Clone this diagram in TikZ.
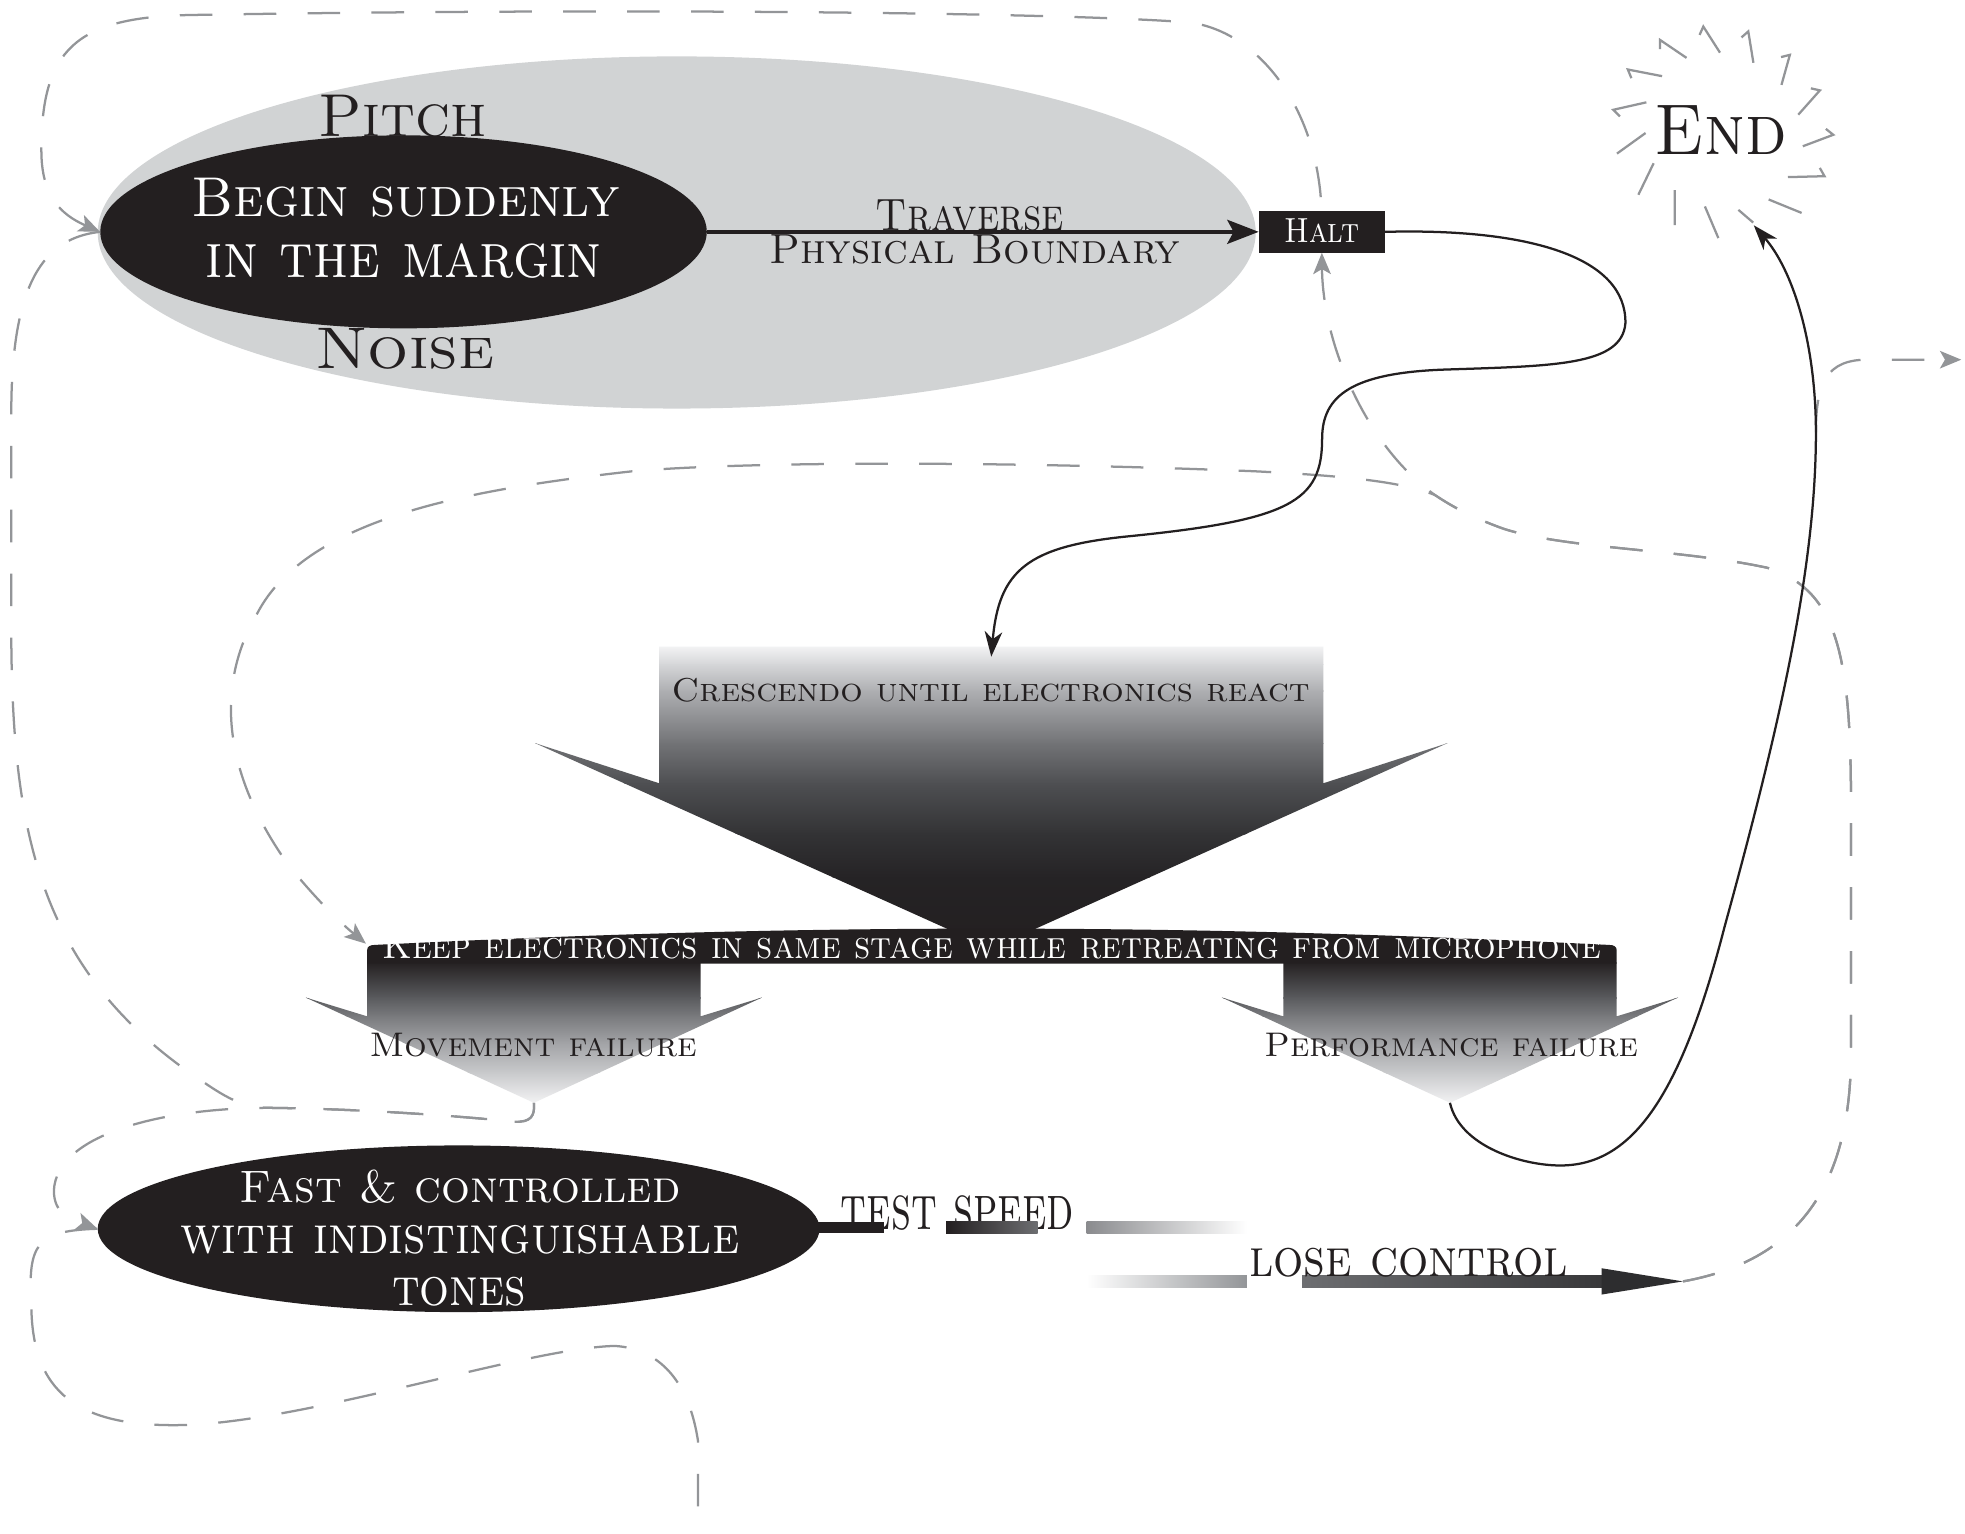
\documentclass[tikz,border=0pt]{standalone}
\usepackage{fontspec}
\usetikzlibrary{shapes.geometric,arrows.meta}
\definecolor{ink}{HTML}{231F20}
\definecolor{dgrey}{HTML}{939598}
\definecolor{lgrey}{HTML}{D1D3D4}
\definecolor{ca}{HTML}{F4F4F5}
\definecolor{cb}{HTML}{D5D6D8}
\definecolor{cc}{HTML}{AEAFB2}
\definecolor{cd}{HTML}{727376}
\definecolor{ce}{HTML}{4E4F52}
\definecolor{cf}{HTML}{333335}
\definecolor{cg}{HTML}{252325}
\definecolor{la}{HTML}{5A5B5E}
\definecolor{lb}{HTML}{7A7B7E}
\definecolor{lc}{HTML}{A2A3A6}
\definecolor{ld}{HTML}{C9CACC}
\definecolor{le}{HTML}{F4F4F5}
\definecolor{sa}{HTML}{6D6E71}
\definecolor{sb}{HTML}{8A8B8E}
\definecolor{sc}{HTML}{38383A}
\definecolor{sd}{HTML}{2D2D2F}
\newcommand{\fitt}[3]{\resizebox{#1pt}{#2pt}{\scshape #3}}
\begin{document}
\begin{tikzpicture}[x=1pt,y=-1pt,
  lbl/.style={anchor=base,inner sep=0pt,outer sep=0pt},
  dpath/.style={draw=dgrey,line width=1.8pt,dash pattern=on 26pt off 25pt},
  gtip/.style={-{Stealth[length=17pt,width=14pt,inset=4pt]}},
  gtipr/.style={{Stealth[length=17pt,width=14pt,inset=4pt]}-},
  bcurve/.style={draw=ink,line width=1.8pt},
  btip/.style={-{Stealth[length=20pt,width=14pt,inset=6pt]}},
  burst/.style={draw=dgrey,line width=1.8pt,line cap=butt,line join=miter},
]
\useasboundingbox (0,0) rectangle (1568,1224);
\fill[white] (0,0) rectangle (1568,1224);

% ---------- top group ----------
\node[ellipse,fill=lgrey,minimum width=924pt,minimum height=281pt,inner sep=0pt] (field) at (540,185.5) {};
\node[ellipse,fill=ink,minimum width=484pt,minimum height=154pt,inner sep=0pt] (begin) at (322,185) {};
\node[lbl,text=ink] (pitch) at (321,109) {\fitt{134}{33}{Pitch}};
\node[lbl,text=white] (begin1) at (323.7,172.9) {\fitt{342}{30.6}{Begin suddenly}};
\node[lbl,text=white] (begin2) at (322.3,221.3) {\fitt{316}{27}{in the margin}};
\node[lbl,text=ink] (noise) at (323,294) {\fitt{143}{32}{Noise}};

\node[fill=ink,minimum width=100.4pt,minimum height=33pt,inner sep=0pt] (halt) at (1054.8,185) {};
\node[lbl,text=white] (halttxt) at (1054.8,193.5) {\fitt{60}{19}{Halt}};

\node[lbl,text=ink] (trav) at (774,183.6) {\fitt{150}{24.5}{Traverse}};
\node[lbl,text=ink] (phys) at (777.8,210.6) {\fitt{328}{23}{Physical Boundary}};
\draw[ink,line width=3.7pt,-{Stealth[length=25pt,width=19pt,inset=5pt]}] (begin.east) -- (halt.west);

% ---------- End ----------
\node[circle,minimum size=162pt,inner sep=0pt] (end) at (1373,103) {};
\node[lbl,text=ink] (endtxt) at (1373.3,123) {\fitt{105.4}{39}{End}};
\foreach \a/\r/\b/\s/\c/\t in {
  90.5/61pt/99.6/83pt/102.6/77pt,
  63.7/59pt/74.2/81pt/77.2/75pt,
  36/60pt/47/81pt/50/75pt,
  10.5/63pt/21.3/85pt/24.3/79pt,
  -11.8/67pt/-2.9/90pt/0.1/84pt,
  -35.5/66pt/-24.4/91pt/-21.4/85pt,
  160.2/63pt/169.8/87pt/172.8/81pt,
  137.9/63pt/147.3/88pt/150.3/82pt,
  115.6/63pt/124.2/86pt/127.2/80pt}
  \draw[burst] ([shift={(\a:\r)}]end.center) -- ([shift={(\b:\s)}]end.center) -- ([shift={(\c:\t)}]end.center);
\foreach \a/\r/\b/\s in {
  -55.7/68pt/-46/93pt,
  -77.6/66pt/-70.8/79pt,
  -101.5/63pt/-91.2/87pt,
  -127/61pt/-115.5/85pt,
  -153/60pt/-141.4/84pt,
  -177/60pt/-166.7/85pt}
  \draw[burst] ([shift={(\a:\r)}]end.center) -- ([shift={(\b:\s)}]end.center);

% ---------- Crescendo arrow ----------
\begin{scope}
\clip (526,516) -- (1056,516) -- (1056,625) -- (1155,593) -- (791,757) -- (427,593) -- (526,625) -- cycle;
\shade[top color=ca,bottom color=cb] (420,515) rectangle (1160,530.5);
\shade[top color=cb,bottom color=cc] (420,530) rectangle (1160,551.5);
\shade[top color=cc,bottom color=cd] (420,551) rectangle (1160,593.5);
\shade[top color=cd,bottom color=ce] (420,593) rectangle (1160,625.5);
\shade[top color=ce,bottom color=cf] (420,625) rectangle (1160,665.5);
\shade[top color=cf,bottom color=cg] (420,665) rectangle (1160,700.5);
\shade[top color=cg,bottom color=ink] (420,700) rectangle (1160,760);
\end{scope}
\coordinate (crescin) at (791,524);
\node[lbl,text=ink] (cresc) at (790.5,560) {\fitt{509}{18.6}{Crescendo until electronics react}};

% ---------- failure arrows and bar ----------
\foreach \dx in {0,731}{
\begin{scope}[shift={(\dx,0)}]
\clip (293,768) -- (559,768) -- (559,811) -- (608,796) -- (426,880) -- (244,796) -- (293,811) -- cycle;
\shade[top color=ink,bottom color=la] (240,767) rectangle (612,796.5);
\shade[top color=la,bottom color=lb] (240,796) rectangle (612,811.5);
\shade[top color=lb,bottom color=lc] (240,811) rectangle (612,832.5);
\shade[top color=lc,bottom color=ld] (240,832) rectangle (612,856.5);
\shade[top color=ld,bottom color=le] (240,856) rectangle (612,881);
\end{scope}}
\fill[ink] (293,769) -- (293,758) .. controls (293,755.5) and (295,754) .. (299,754)
  .. controls (500,744) and (650,741) .. (791,741)
  .. controls (930,741) and (1080,744) .. (1284,754)
  .. controls (1288,754) and (1290,755.5) .. (1290,758) -- (1290,769) -- cycle;
\node[lbl,text=white] (keep) at (791.5,764.5) {\fitt{973}{21}{Keep electronics in same stage while retreating from microphone}};
\node[lbl,text=ink] (move) at (425.5,843) {\fitt{261}{18.6}{Movement failure}};
\node[lbl,text=ink] (perf) at (1158,843) {\fitt{298}{18.6}{Performance failure}};
\coordinate (keepw) at (292,753);
\coordinate (movtip) at (426,880);
\coordinate (perftip) at (1157,880);

% ---------- Fast & controlled ----------
\node[ellipse,fill=ink,minimum width=576pt,minimum height=133pt,inner sep=0pt] (fast) at (366,980.5) {};
\node[lbl,text=white] (fast1) at (367,959.8) {\fitt{352}{26}{Fast \& controlled}};
\node[lbl,text=white] (fast2) at (367,1000.2) {\fitt{446}{22.6}{with indistinguishable}};
\node[lbl,text=white] (fast3) at (366.5,1041.5) {\fitt{107}{22.6}{tones}};

\node[lbl,text=ink] (testsp) at (764,981) {\fitt{186}{27}{test speed}};
\fill[ink] (640,975) rectangle (705,984);
\shade[left color=ink,right color=sa] (755,975) rectangle (828,984);
\shade[left color=sb,right color=white] (867,975) rectangle (995,984);
\shade[left color=white,right color=dgrey] (867,1018) rectangle (995,1027);
\shade[left color=sa,right color=sc] (1039,1018) rectangle (1280,1027);
\coordinate (losetip) at (1343,1022.5);
\fill[sd] (1278,1012) -- (losetip) -- (1278,1033) -- cycle;
\node[lbl,text=ink] (losec) at (1124,1018.7) {\fitt{254}{22.6}{lose control}};

% ---------- dashed connectors ----------
\coordinate (J) at (1145,395);
\coordinate (exitS) at (1449,345);
\coordinate (exitR) at (1565,287);
% Halt -> Begin (over the top)
\draw[dpath,gtipr,shorten >=11pt] (begin.west) .. controls (48,171) and (33,156) .. (33,120)
  .. controls (33,40) and (60,14) .. (150,12)
  .. controls (500,6) and (850,10) .. (950,18)
  .. controls (1005,26) and (1048,85) .. (halt.north);
% Begin -> Movement failure (down the left)
\draw[dpath] (begin.west) .. controls (35,190) and (9,225) .. (9,330) -- (9,509)
  .. controls (10,660) and (30,770) .. (150,855)
  .. controls (175,872) and (190,884) .. (215,884)
  .. controls (300,885) and (380,892) .. (410,895)
  .. controls (424,896) and (427,890) .. (movtip);
% Movement failure -> Fast
\draw[dpath,gtip] (movtip) .. controls (427,890) and (424,896) .. (410,895)
  .. controls (380,892) and (300,885) .. (215,884)
  .. controls (130,884) and (45,905) .. (43,950)
  .. controls (43,968) and (55,972) .. (fast.west);
% Fast -> off the page
\draw[dpath] (fast.west) .. controls (30,982) and (22,992) .. (25,1040)
  .. controls (25,1110) and (60,1140) .. (150,1137)
  .. controls (250,1133) and (420,1076) .. (490,1074)
  .. controls (515,1075) and (548,1090) .. (557,1150) -- (557,1232);
% Lose control -> Halt
\draw[dpath,gtip] (losetip) .. controls (1440,1005) and (1477,940) .. (1477,840) -- (1477,640)
  .. controls (1477,520) and (1465,470) .. (1410,453)
  .. controls (1340,438) and (1250,438) .. (1200,422)
  .. controls (1175,413) and (1160,405) .. (J)
  .. controls (1110,370) and (1085,330) .. (1070,290)
  .. controls (1058,258) and (1055,230) .. (halt.south);
% Lose control -> Keep electronics
\draw[dpath,gtip] (losetip) .. controls (1440,1005) and (1477,940) .. (1477,840) -- (1477,640)
  .. controls (1477,520) and (1465,470) .. (1410,453)
  .. controls (1340,438) and (1250,438) .. (1200,422)
  .. controls (1175,413) and (1160,405) .. (J)
  .. controls (1120,385) and (1080,380) .. (1000,376)
  .. controls (800,368) and (600,368) .. (505,376)
  .. controls (380,390) and (245,412) .. (205,490)
  .. controls (170,550) and (180,620) .. (230,690)
  .. controls (250,715) and (270,735) .. (keepw);
% exit to the right
\draw[dpath,gtip] (exitS) .. controls (1449,305) and (1458,287) .. (1490,287) -- (exitR);

% ---------- black connectors ----------
\draw[bcurve,btip] (halt.east) .. controls (1220,182) and (1298,205) .. (1297,258)
  .. controls (1294,292) and (1240,292) .. (1150,295)
  .. controls (1080,298) and (1055,315) .. (1055,350)
  .. controls (1055,400) and (1030,415) .. (900,428)
  .. controls (820,436) and (797,455) .. (crescin);
\draw[bcurve,btip] (perftip) .. controls (1165,915) and (1215,930) .. (1245,930)
  .. controls (1300,930) and (1340,880) .. (1376,740)
  .. controls (1420,580) and (1450,450) .. (1449,340)
  .. controls (1448,270) and (1430,215) .. (end.-71);
\end{tikzpicture}
\end{document}
